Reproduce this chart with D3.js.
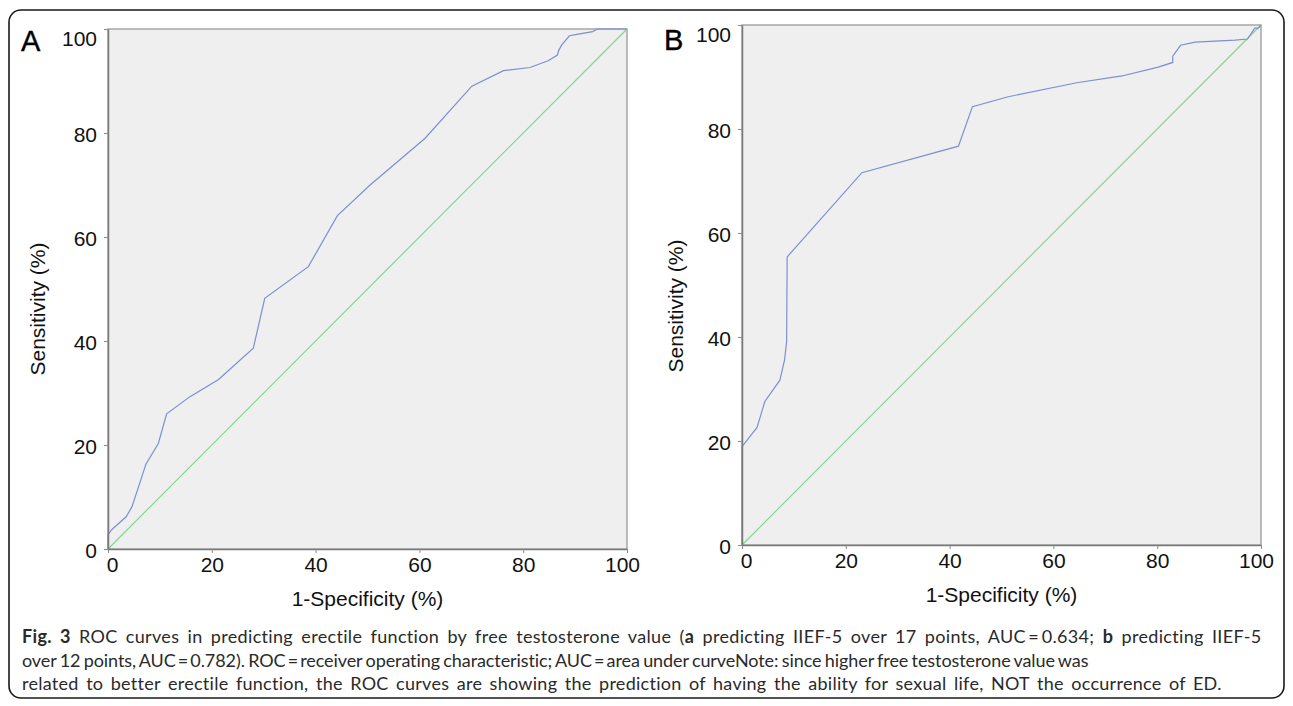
<!DOCTYPE html>
<html lang="en">
<head>
<meta charset="utf-8">
<script src="https://d3js.org/d3.v7.min.js"></script>
<style>
  body { margin: 0; background: #fff; }
  svg text { font-family: "Liberation Sans", Arial, sans-serif; }
</style>
</head>
<body>
<div id="graph"></div>
<script>

// ROC points (1-specificity %, sensitivity %)
var fprA = [0, 0, 0.7, 3.5, 4.6, 5.8, 7.3, 9.7, 11.3, 15.8, 21.3, 28, 30.2, 38.6, 44.2, 50.5, 61.1, 70.1, 76.2, 81.3, 84.8, 86.6, 86.8, 87.4, 88.9, 90.6, 93.4, 94.3, 100];
var tprA = [0, 2.7, 3.7, 6.2, 8.1, 11.7, 16.3, 20.3, 26, 29.3, 32.6, 38.6, 48.2, 54.3, 64.1, 70, 79, 89, 92, 92.6, 93.9, 95, 95.8, 96.9, 98.7, 99, 99.5, 100, 100];

var fprB = [0, 0, 2.9, 4.4, 7.3, 8.2, 8.6, 8.7, 23.1, 41.7, 44.4, 51.3, 64.5, 73.2, 80.2, 83, 83, 84.5, 87.3, 95, 97.4, 98.8, 99.5, 100];
var tprB = [0, 18.9, 22.6, 27.6, 31.7, 35.6, 39.1, 55.4, 71.6, 76.7, 84.3, 86.2, 88.9, 90.2, 91.9, 92.8, 94, 96.1, 96.7, 97.1, 97.3, 99.4, 99.4, 100];

var diag = [0, 100];
var ticks = [0, 20, 40, 60, 80, 100];

var captionLines = [
  [["Fig. 3", true], [" ROC curves in predicting erectile function by free testosterone value (", false], ["a", true], [" predicting IIEF-5 over 17 points, AUC\u2009=\u20090.634; ", false], ["b", true], [" predicting IIEF-5", false]],
  [["over 12 points, AUC\u2009=\u20090.782). ROC\u2009=\u2009receiver operating characteristic; AUC\u2009=\u2009area under curveNote: since higher free testosterone value was", false]],
  [["related to better erectile function, the ROC curves are showing the prediction of having the ability for sexual life, NOT the occurrence of ED.", false]]
];

var W = 1293, H = 706;

var svg = d3.select("#graph")
  .append("svg")
    .attr("width", W)
    .attr("height", H);

// outer frame of the figure
svg.append("rect")
  .attr("x", 9).attr("y", 10)
  .attr("width", 1275).attr("height", 688)
  .attr("rx", 12).attr("ry", 12)
  .style("fill", "none")
  .style("stroke", "#1a1a1a")
  .style("stroke-width", 1.6);

var panels = [
  {label: "A", fpr: fprA, tpr: tprA, left: 108, top: 29, w: 519, h: 520, lx: 21, ly: 51, ytx: 45, yty: 309},
  {label: "B", fpr: fprB, tpr: tprB, left: 742, top: 25, w: 519, h: 520, lx: 664, ly: 50, ytx: 683, yty: 306}
];

panels.forEach(function(p) {
  var g = svg.append("g")
    .attr("transform", "translate(" + p.left + "," + p.top + ")");

  var x = d3.scaleLinear().domain([0, 100]).range([0, p.w]);
  var y = d3.scaleLinear().domain([0, 100]).range([p.h, 0]);

  // plot background + frame
  g.append("rect")
    .attr("width", p.w).attr("height", p.h)
    .style("fill", "#efefef")
    .style("stroke", "#a6a6a6")
    .style("stroke-width", 1.5);

  // reference diagonal
  g.append("path")
    .datum(diag)
    .attr("d", d3.line().x(function(d) { return x(d); }).y(function(d) { return y(d); }))
    .style("fill", "none")
    .style("stroke", "#7ed48a")
    .style("stroke-width", 1.1);

  // ROC curve
  var pts = p.fpr.map(function(v, i) { return [v, p.tpr[i]]; });
  g.append("path")
    .datum(pts)
    .attr("d", d3.line().x(function(d) { return x(d[0]); }).y(function(d) { return y(d[1]); }))
    .style("fill", "none")
    .style("stroke", "#7d8fd2")
    .style("stroke-width", 1.2);

  // axes
  var xAxis = g.append("g")
    .attr("transform", "translate(0," + p.h + ")")
    .call(d3.axisBottom(x).tickValues(ticks).tickSize(4).tickSizeOuter(0).tickPadding(4));
  var yAxis = g.append("g")
    .call(d3.axisLeft(y).tickValues(ticks).tickSize(4).tickSizeOuter(0).tickPadding(7));

  [xAxis, yAxis].forEach(function(a) {
    a.select(".domain").style("stroke", "#7a7a7a").style("stroke-width", 1.5);
    a.selectAll(".tick line").style("stroke", "#8a8a8a");
    a.selectAll(".tick text")
      .style("font-family", "'Liberation Sans', Arial, sans-serif")
      .style("font-size", "21px")
      .style("fill", "#111");
  });

  // SPSS nudges the end labels inward
  xAxis.selectAll(".tick text")
    .attr("dx", function(d) { return d === 0 ? 4 : (d === 100 ? -5 : 0); });
  yAxis.selectAll(".tick text")
    .attr("dy", function(d) { return d === 100 ? "0.8em" : "0.42em"; });

  // axis titles
  g.append("text")
    .attr("x", p.w / 2)
    .attr("y", p.h + 57)
    .attr("text-anchor", "middle")
    .style("font-size", "21px")
    .style("fill", "#111")
    .text("1-Specificity (%)");

  svg.append("text")
    .attr("transform", "translate(" + p.ytx + "," + p.yty + ") rotate(-90)")
    .attr("text-anchor", "middle")
    .style("font-size", "21px")
    .style("fill", "#111")
    .text("Sensitivity (%)");

  // panel letter
  svg.append("text")
    .attr("x", p.lx)
    .attr("y", p.ly)
    .style("font-size", "29px")
    .style("fill", "#000")
    .style("stroke", "#000")
    .style("stroke-width", 0.4)
    .text(p.label);
});

// caption: justify each line, part by word spacing and part by letter spacing
var lineWidths = [1241, 1067, 1200];
captionLines.forEach(function(parts, i) {
  var t = svg.append("text")
    .attr("x", 22)
    .attr("y", 643 + i * 23.5)
    .style("font-family", "Lato, 'Open Sans', sans-serif")
    .style("font-size", "18px")
    .style("fill", "#2a2a2a");
  parts.forEach(function(pt) {
    t.append("tspan")
      .style("font-weight", pt[1] ? "bold" : "normal")
      .text(pt[0]);
  });
  var str = parts.map(function(pt) { return pt[0]; }).join("");
  var natural = t.node().getComputedTextLength();
  var diff = lineWidths[i] - natural;
  var spaces = str.split(" ").length - 1;
  t.style("word-spacing", (diff * 0.6 / spaces) + "px")
   .style("letter-spacing", (diff * 0.4 / str.length) + "px");
});

</script>
</body>
</html>
